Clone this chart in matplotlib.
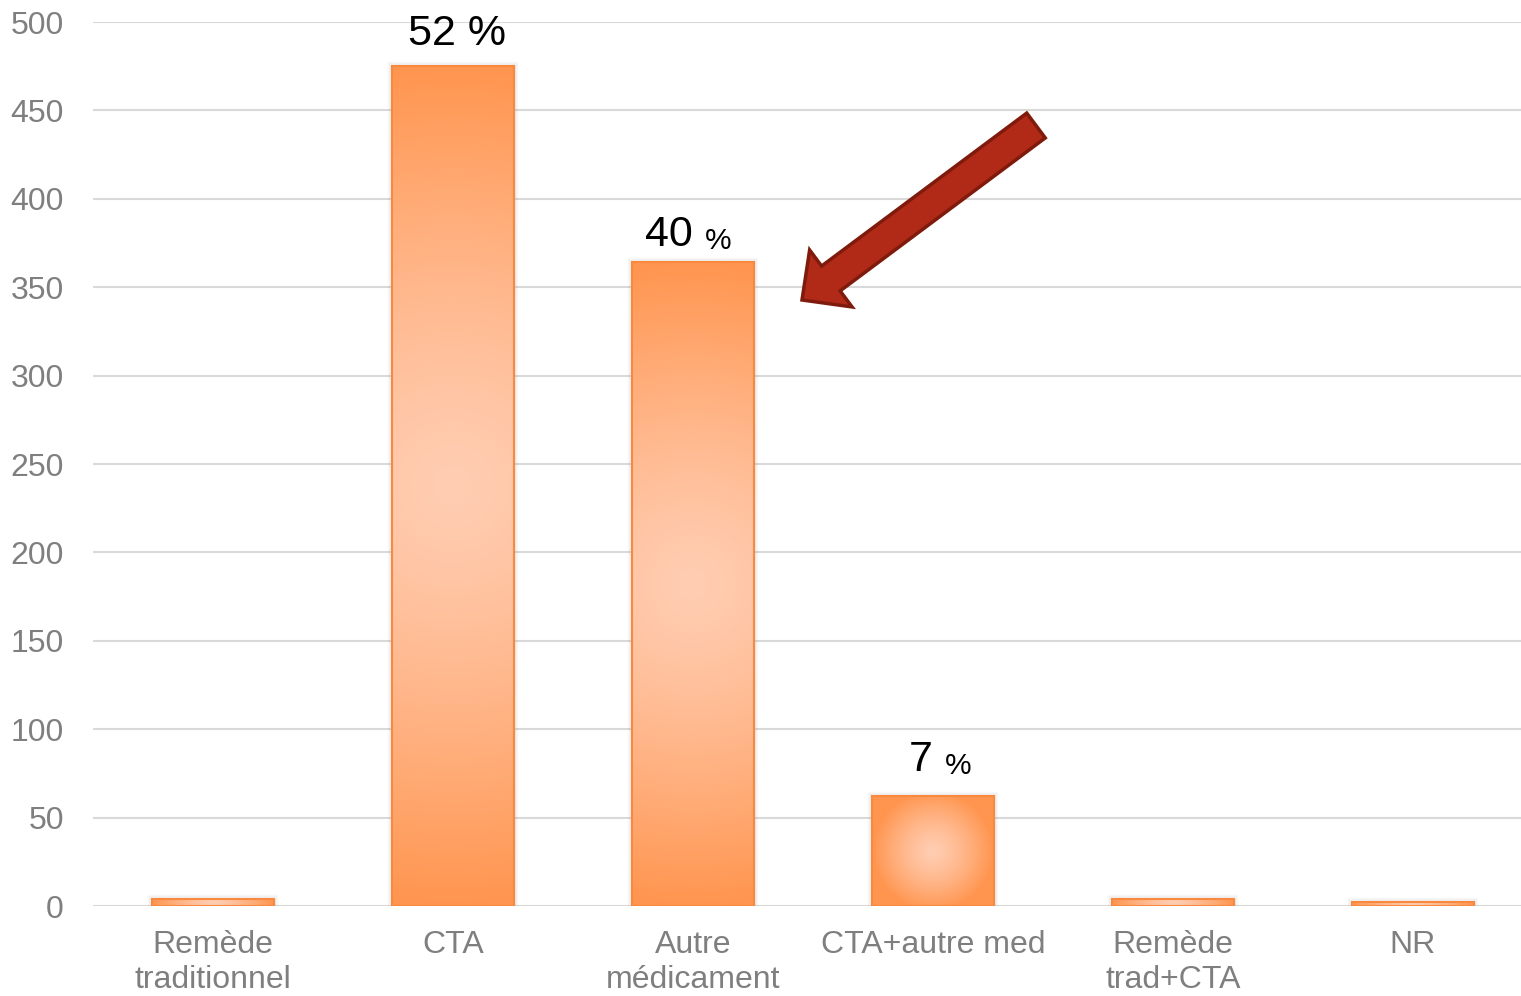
import matplotlib
matplotlib.use("Agg")
import matplotlib.pyplot as plt
import matplotlib.patches as mpatches
import numpy as np
from matplotlib.colors import to_rgb

plt.rcParams['font.family'] = ['Liberation Sans', 'DejaVu Sans']

# Data
categories = ["Remède\ntraditionnel", "CTA", "Autre\nmédicament",
              "CTA+autre med", "Remède\ntrad+CTA", "NR"]
counts = [4, 475, 364, 62, 4, 2]
pct_labels = ["", "52", "40", "7", "", ""]

# vertical gap (points) between bar top and its label, as placed in the original
label_gap = {"52": 15, "40": 12, "7": 18}

dark = np.array(to_rgb('#FF954F'))
light = np.array(to_rgb('#FFCDB2'))
edge = '#F8893F'

fig = plt.figure(figsize=(15.21, 9.96), dpi=100)
# plot area runs a bit past the right edge of the picture, like the original
ax = fig.add_axes([93 / 1521, 90 / 996, (1533 - 93) / 1521, (906 - 22) / 996])

x = np.arange(len(categories))
width = 0.505
bars = ax.bar(x, counts, width, facecolor='none', edgecolor=edge,
              linewidth=1.5, zorder=3)

ax.set_xlim(-0.5, len(categories) - 0.5)
ax.set_ylim(0, 500)
ax.set_yticks(np.arange(0, 501, 50))
ax.set_xticks(x)
ax.set_xticklabels(categories, linespacing=1.25)

# radial gradient fill for each bar (circle in pixel space) + soft shadow
px_x = ax.transData.transform((1, 0))[0] - ax.transData.transform((0, 0))[0]
px_y = ax.transData.transform((0, 1))[1] - ax.transData.transform((0, 0))[1]
for rect in bars:
    x0, y0 = rect.get_x(), rect.get_y()
    w, h = rect.get_width(), rect.get_height()
    for k in range(1, 4):
        ax.add_patch(mpatches.Rectangle((x0, y0), w, h, facecolor='none',
                                        edgecolor='gray', linewidth=2 * k,
                                        alpha=0.06, zorder=1.5))
    wp, hp = w * px_x, h * px_y
    R = max(wp, hp) / 2
    nx, ny = 120, max(int(hp), 4)
    gx = np.linspace(-wp / 2, wp / 2, nx)
    gy = np.linspace(-hp / 2, hp / 2, ny)
    XX, YY = np.meshgrid(gx, gy)
    d = np.clip(np.sqrt(XX ** 2 + YY ** 2) / R, 0, 1) ** 1.3
    img = light[None, None, :] * (1 - d[..., None]) + dark[None, None, :] * d[..., None]
    im = ax.imshow(img, extent=(x0, x0 + w, y0, y0 + h), origin='lower',
                   aspect='auto', interpolation='bilinear', zorder=2)
    im.set_clip_path(rect)

ax.set_xlim(-0.5, len(categories) - 0.5)
ax.set_ylim(0, 500)

# percentage labels
for xi, c, lab in zip(x, counts, pct_labels):
    if not lab:
        continue
    gap = label_gap[lab]
    if lab == "52":
        ax.annotate(lab + " %", xy=(xi, c), xytext=(3, gap), textcoords='offset points',
                    ha='center', va='baseline', fontsize=31, color='black')
    else:
        t = ax.annotate(lab, xy=(xi, c), xytext=(0, gap), textcoords='offset points',
                        ha='right', va='baseline', fontsize=31, color='black')
        ax.annotate("%", xy=(1, 0), xycoords=t, xytext=(8.5, 0),
                    textcoords='offset points', ha='left', va='bottom',
                    fontsize=21.5, color='black')

# arrow pointing at the "Autre médicament" bar
tip = np.array([8.02, (996 - 300) / 100])
tail = np.array([10.36, (996 - 125.5) / 100])
arrow = mpatches.FancyArrow(tail[0], tail[1], tip[0] - tail[0], tip[1] - tail[1],
                            width=0.31, head_width=0.71, head_length=0.36,
                            length_includes_head=True, facecolor='#B12A17',
                            edgecolor='#7F1B0C', linewidth=2.5,
                            transform=fig.dpi_scale_trans, zorder=10)
fig.patches.append(arrow)

ax.grid(axis='y', color='#D9D9D9', linewidth=1.5, zorder=0)
ax.set_axisbelow(True)
for s in ax.spines.values():
    s.set_visible(False)
ax.tick_params(axis='both', length=0, labelsize=23, labelcolor='#7F7F7F')
ax.tick_params(axis='y', pad=21)
ax.tick_params(axis='x', pad=17)

fig.savefig("out.png", dpi=100)
